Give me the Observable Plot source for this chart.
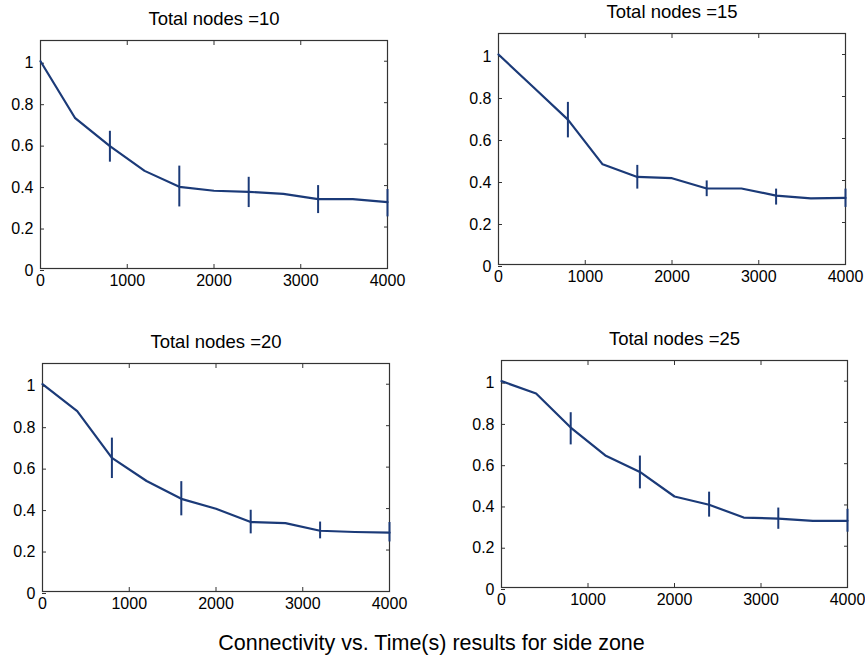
<!DOCTYPE html>
<html><head><meta charset="utf-8">
<script src="https://cdn.jsdelivr.net/npm/d3@7"></script>
<script src="https://cdn.jsdelivr.net/npm/@observablehq/plot@0.6"></script>
<style>
body{margin:0;background:#fff;}
#root{position:relative;width:865px;height:658px;font-family:"Liberation Sans",Arial,sans-serif;overflow:hidden;}
#root svg{position:absolute;}
#caption{position:absolute;left:0;width:863px;text-align:center;top:630px;font-size:21.5px;color:#000;line-height:26px;}
</style></head><body>
<div id="root"><div id="caption">Connectivity vs. Time(s) results for side zone</div></div>
<script>
const times = [0, 400, 800, 1200, 1600, 2000, 2400, 2800, 3200, 3600, 4000];
const errTimes = [800, 1600, 2400, 3200, 4000];
const xTicks = [0, 1000, 2000, 3000, 4000];
const yTicks = [0, 0.2, 0.4, 0.6, 0.8, 1];
const titles = ["Total nodes =10", "Total nodes =15", "Total nodes =20", "Total nodes =25"];

const conn10 = [1.0, 0.725, 0.59, 0.471, 0.394, 0.375, 0.37, 0.36, 0.335, 0.335, 0.32];
const conn15 = [1.0, 0.845, 0.69, 0.477, 0.417, 0.411, 0.362, 0.362, 0.328, 0.315, 0.317];
const conn20 = [1.0, 0.87, 0.645, 0.533, 0.447, 0.399, 0.335, 0.33, 0.293, 0.287, 0.284];
const conn25 = [1.0, 0.94, 0.775, 0.64, 0.56, 0.441, 0.401, 0.339, 0.334, 0.323, 0.323];

const err10Low = [0.513, 0.297, 0.294, 0.265, 0.249];
const err10High = [0.662, 0.494, 0.44, 0.40, 0.381];
const err15Low = [0.603, 0.359, 0.323, 0.283, 0.272];
const err15High = [0.772, 0.472, 0.398, 0.359, 0.359];
const err20Low = [0.545, 0.365, 0.278, 0.254, 0.239];
const err20High = [0.74, 0.53, 0.392, 0.335, 0.333];
const err25Low = [0.691, 0.478, 0.341, 0.282, 0.268];
const err25High = [0.847, 0.637, 0.462, 0.385, 0.379];

const lineColor = "#1b3a78";
const root = document.getElementById("root");

function panel(title, vals, lo, hi, frame) {
  const [x0, y0, x1, y1] = frame;
  const mL = 45, mT = 40, mR = 25, mB = 35;
  const rows = times.map((t, i) => ({t, v: vals[i]}));
  const errRows = errTimes.map((t, i) => ({t, lo: lo[i], hi: hi[i]}));
  const chart = Plot.plot({
    width: (x1 - x0) + mL + mR,
    height: (y1 - y0) + mT + mB,
    marginLeft: mL, marginTop: mT, marginRight: mR, marginBottom: mB,
    style: {fontFamily: "Liberation Sans, Arial, sans-serif", fontSize: "16px", color: "#000", background: "transparent", overflow: "visible"},
    x: {domain: [0, 4000]},
    y: {domain: [0, 1.1]},
    marks: [
      Plot.frame({stroke: "#333", strokeWidth: 1.2}),
      Plot.axisX({ticks: xTicks, tickSize: -4, tickPadding: 10, tickFormat: d => String(d), label: null, stroke: "#333"}),
      Plot.axisX({anchor: "top", ticks: xTicks, tickSize: -4, tickFormat: () => "", label: null, stroke: "#333"}),
      Plot.axisY({ticks: yTicks, tickSize: -4, tickPadding: 11, tickFormat: d => String(+d.toFixed(1)), label: null, stroke: "#333", dy: 2}),
      Plot.axisY({anchor: "right", ticks: yTicks, tickSize: -4, tickFormat: () => "", label: null, stroke: "#333"}),
      Plot.line(rows, {x: "t", y: "v", stroke: lineColor, strokeWidth: 2.2}),
      Plot.ruleX(errRows, {x: "t", y1: "lo", y2: "hi", stroke: lineColor, strokeWidth: 2}),
      Plot.text([title], {text: d => d, frameAnchor: "top", dy: -16, lineAnchor: "bottom", fontSize: 18.5, fill: "#000"})
    ]
  });
  chart.style.left = (x0 - mL) + "px";
  chart.style.top = (y0 - mT) + "px";
  root.appendChild(chart);
}

panel(titles[0], conn10, err10Low, err10High, [40, 40, 387, 268]);
panel(titles[1], conn15, err15Low, err15High, [498, 33, 845, 264]);
panel(titles[2], conn20, err20Low, err20High, [42, 363, 389, 591]);
panel(titles[3], conn25, err25Low, err25High, [501, 360, 847, 587]);
</script>
</body></html>
